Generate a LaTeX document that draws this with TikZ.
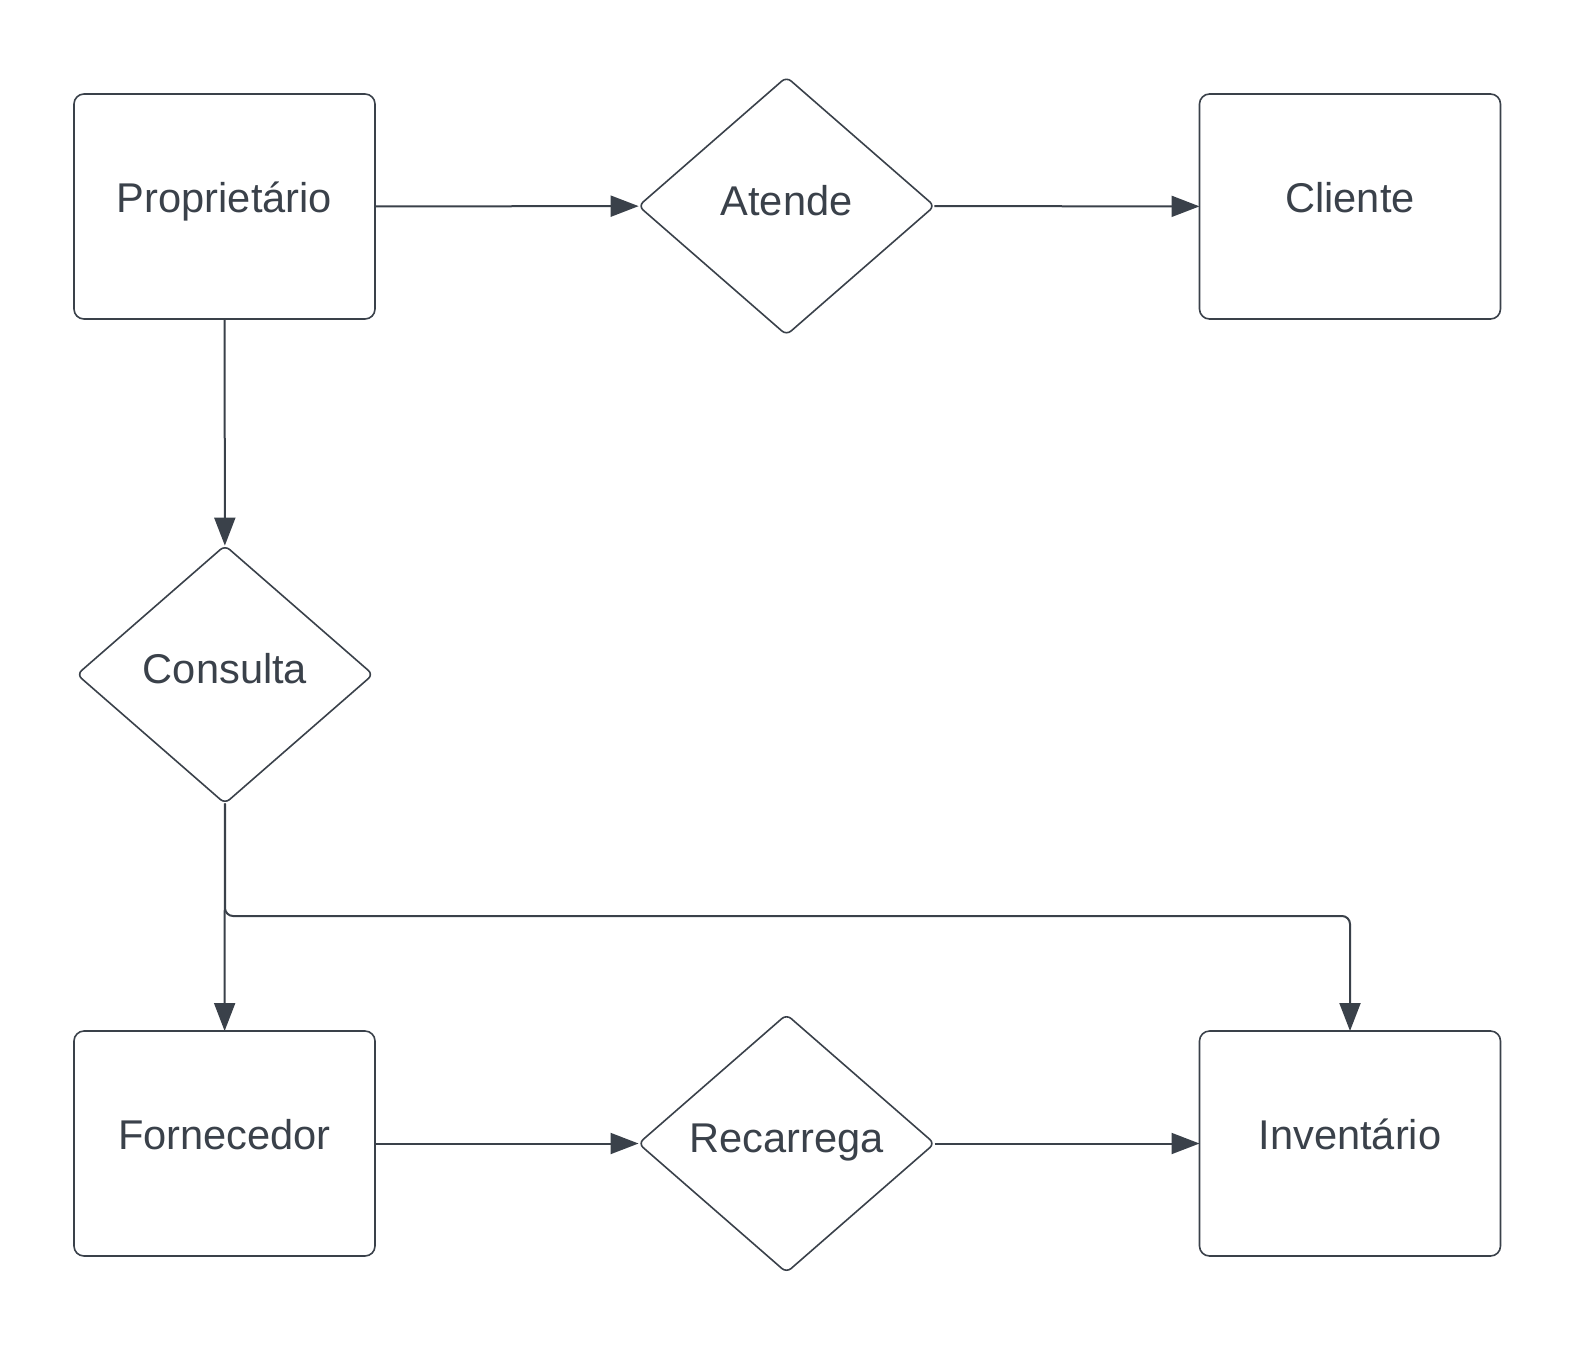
\documentclass[tikz,border=0pt]{standalone}
\usepackage{fontspec}
\setmainfont{Liberation Sans}
\usetikzlibrary{shapes.geometric,arrows.meta}
\definecolor{ink}{HTML}{3A414A}

\begin{document}
\begin{tikzpicture}[x=0.5pt, y=-0.5pt,
  entity/.style={draw=ink, line width=0.8pt, rounded corners=5pt, fill=white,
    minimum width=150.5pt, minimum height=112.5pt, inner sep=0pt, outer sep=0pt,
    text=ink, font=\fontsize{20.8}{24}\selectfont, text height=15pt, text depth=8.8pt},
  relation/.style={diamond, draw=ink, line width=0.8pt, rounded corners=3pt, fill=white,
    minimum width=148pt, minimum height=129pt, inner sep=0pt, outer sep=0pt,
    text=ink, font=\fontsize{20.8}{24}\selectfont, text height=15pt, text depth=5.8pt},
  arr/.style={draw=ink, line width=1pt, -{Triangle[length=14pt, width=10.5pt]}}]
\useasboundingbox (0, 0) rectangle (1575, 1350);

\node[entity] (prop) at (224.5, 206.5) {Proprietário};
\node[relation] (atende) at (786.5, 206) {Atende};
\node[entity] (cliente) at (1350, 206.5) {Cliente};
\node[relation] (consulta) at (225, 674.5) {Consulta};
\node[entity] (forn) at (224.5, 1143.5) {Fornecedor};
\node[relation] (recarrega) at (786.5, 1143.5) {Recarrega};
\node[entity] (inv) at (1350, 1143.5) {Inventário};
\coordinate (split) at (225, 916);

\draw[arr] (prop) -- (atende);
\draw[arr] (atende) -- (cliente);
\draw[arr] (prop) -- (consulta);
\draw[arr] (consulta) -- (forn);
\draw[arr, rounded corners=4pt] (consulta.south) -- (split) -| (inv.north);
\draw[arr] (forn) -- (recarrega);
\draw[arr] (recarrega) -- (inv);

\end{tikzpicture}
\end{document}
